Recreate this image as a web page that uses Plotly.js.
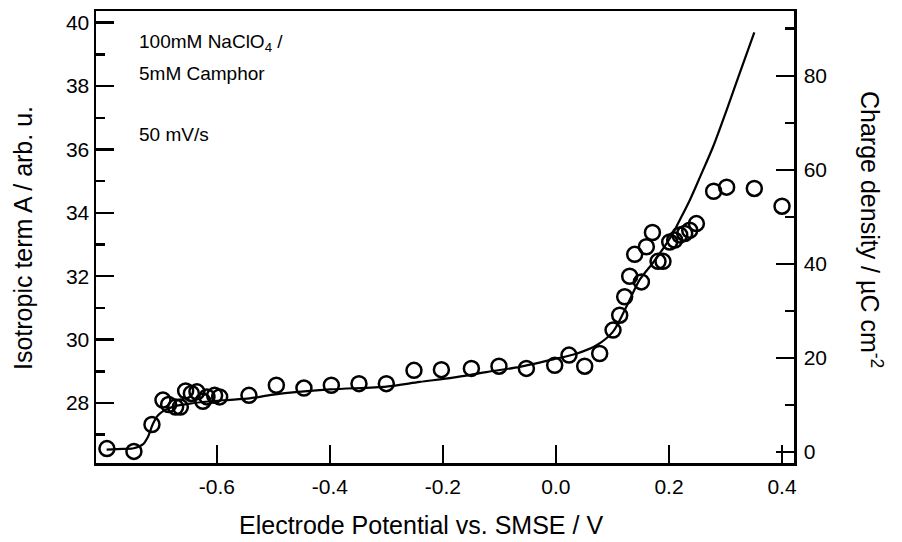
<!DOCTYPE html>
<html>
<head>
<meta charset="utf-8">
<script src="https://cdn.plot.ly/plotly-3.0.1.min.js"></script>
<style>html,body{margin:0;padding:0;background:#fff;}#chart{width:902px;height:542px;}</style>
</head>
<body>
<div id="chart"></div>
<script>
// Isotropic term A (circles, left axis)
const potentialA = [-0.7945,-0.7467,-0.7148,-0.6954,-0.6853,-0.6729,-0.6646,-0.6552,-0.6451,-0.6352,-0.6246,-0.6175,-0.6039,-0.595,-0.5432,-0.4947,-0.4459,-0.3974,-0.3485,-0.3001,-0.2512,-0.2027,-0.1496,-0.1008,-0.0523,-0.0022,0.0231,0.0509,0.0774,0.1010,0.1128,0.1216,0.1305,0.1393,0.1512,0.1600,0.1707,0.1806,0.1894,0.2013,0.2101,0.2190,0.2278,0.2367,0.2485,0.2790,0.3020,0.3510,0.4000];
const isotropicA = [26.56,26.47,27.32,28.09,27.95,27.87,27.87,28.38,28.30,28.35,28.05,28.19,28.24,28.19,28.24,28.56,28.47,28.56,28.61,28.61,29.03,29.05,29.09,29.16,29.09,29.19,29.51,29.16,29.56,30.30,30.77,31.35,32.00,32.69,31.82,32.93,33.38,32.47,32.47,33.08,33.14,33.30,33.35,33.45,33.66,34.68,34.81,34.77,34.21];
// Charge density (line, right axis)
const potentialQ = [-0.795,-0.766,-0.747,-0.731,-0.722,-0.713,-0.704,-0.692,-0.672,-0.648,-0.589,-0.542,-0.5,-0.4,-0.3,-0.241,-0.182,-0.123,-0.064,-0.005,0.036,0.072,0.101,0.125,0.148,0.172,0.195,0.207,0.219,0.237,0.255,0.278,0.302,0.325,0.351];
const chargeQ = [0.5,0.65,0.8,1.6,3.2,6.0,7.8,8.9,9.8,10.3,11.0,11.4,12.2,13.3,13.9,14.9,15.8,17.0,18.1,19.7,20.9,22.7,25.6,31.0,36.6,40.3,44.2,46.5,49.3,53.6,58.5,64.9,72.7,80.5,89.2];
// Tick labels
const xTickVals = [-0.6,-0.4,-0.2,0.0,0.2,0.4];
const xTickText = ["-0.6","-0.4","-0.2","0.0","0.2","0.4"];

const FONT = "Liberation Sans, Arial, sans-serif";
const traces = [
  {x: potentialQ, y: chargeQ, yaxis: 'y2', type: 'scatter', mode: 'lines',
   line: {color: '#000', width: 2.2, shape: 'spline', smoothing: 0.8}, showlegend: false, hoverinfo: 'skip'},
  {x: potentialA, y: isotropicA, type: 'scatter', mode: 'markers',
   marker: {symbol: 'circle-open', size: 15, color: '#000', line: {color: '#000', width: 2.5}}, showlegend: false}
];
const axisCommon = {showgrid: false, zeroline: false, showline: true, linecolor: '#000', linewidth: 2.5,
  ticks: 'inside', ticklen: 18, tickwidth: 2.5, tickcolor: '#000',
  tickfont: {family: FONT, size: 21, color: '#000'}};
const layout = {
  width: 902, height: 542,
  margin: {l: 96, r: 108, t: 11, b: 79, pad: 0},
  paper_bgcolor: '#fff', plot_bgcolor: '#fff',
  font: {family: FONT, color: '#000'},
  xaxis: Object.assign({}, axisCommon, {range: [-0.8138, 0.4212], tickmode: 'array', tickvals: xTickVals, ticktext: xTickText, mirror: true, ticklabelstandoff: 3}),
  yaxis: Object.assign({}, axisCommon, {range: [26.105, 40.37], tickmode: 'linear', tick0: 0, dtick: 2,
    minor: {dtick: 1, tick0: 0, ticks: 'inside', ticklen: 9, tickwidth: 2.5, tickcolor: '#000'}}),
  yaxis2: Object.assign({}, axisCommon, {range: [-2.34, 93.77], overlaying: 'y', side: 'right', tickmode: 'linear', tick0: 0, dtick: 20, ticklabelstandoff: 3,
    minor: {dtick: 10, tick0: 0, ticks: 'inside', ticklen: 9, tickwidth: 2.5, tickcolor: '#000'}}),
  annotations: [
    {text: 'Electrode Potential vs. SMSE / V', xref: 'paper', yref: 'paper', x: (421-96)/698, y: -(525-463)/452, xanchor: 'center', yanchor: 'middle', showarrow: false, font: {family: FONT, size: 25}},
    {text: 'Isotropic term A / arb. u.', xref: 'paper', yref: 'paper', x: -(96-23)/698, y: (463-238)/452, xanchor: 'center', yanchor: 'middle', textangle: -90, showarrow: false, font: {family: FONT, size: 25}},
    {text: 'Charge density / µC cm<sup>-2</sup>', xref: 'paper', yref: 'paper', x: (871-96)/698, y: (463-230)/452, xanchor: 'center', yanchor: 'middle', textangle: 90, showarrow: false, font: {family: FONT, size: 25}},
    {text: '100mM NaClO<sub>4</sub> /', xref: 'paper', yref: 'paper', x: (137-96)/698, y: (463-43)/452, xanchor: 'left', yanchor: 'middle', showarrow: false, font: {family: FONT, size: 19}},
    {text: '5mM Camphor', xref: 'paper', yref: 'paper', x: (137-96)/698, y: (463-73)/452, xanchor: 'left', yanchor: 'middle', showarrow: false, font: {family: FONT, size: 19}},
    {text: '50 mV/s', xref: 'paper', yref: 'paper', x: (137-96)/698, y: (463-134)/452, xanchor: 'left', yanchor: 'middle', showarrow: false, font: {family: FONT, size: 19}}
  ]
};
Plotly.newPlot('chart', traces, layout, {displayModeBar: false, staticPlot: true});
</script>
</body>
</html>
